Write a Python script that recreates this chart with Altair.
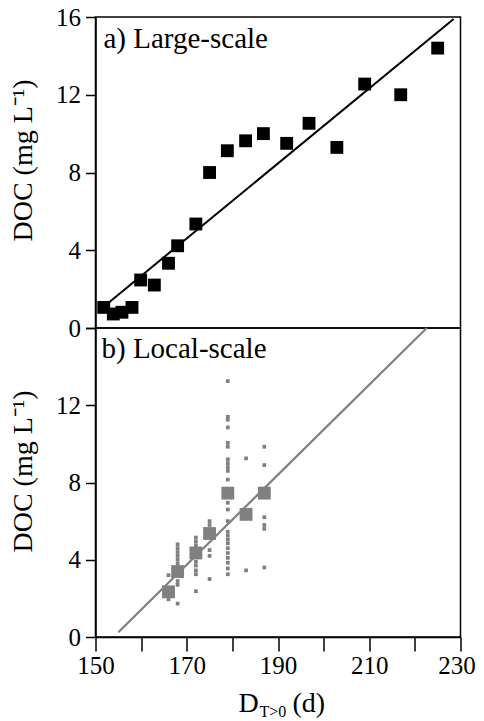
import altair as alt
import pandas as pd

FONT = "Liberation Serif"

# Panel a) Large-scale
a_day = [151.8, 153.9, 155.8, 158.0, 159.9, 162.9, 166.0, 168.0, 172.0, 175.0,
         178.9, 182.9, 186.8, 191.9, 196.8, 202.9, 209.0, 216.9, 225.0]
a_doc = [1.06, 0.72, 0.81, 1.06, 2.47, 2.21, 3.33, 4.23, 5.35, 8.0,
         9.12, 9.63, 10.0, 9.5, 10.53, 9.29, 12.55, 12.0, 14.4]
fit_a_day = [152.8, 228.5]
fit_a_doc = [1.29, 15.9]

# Panel b) Local-scale: means
b_day = [166, 168, 172, 175, 179, 183, 187]
b_doc = [2.34, 3.39, 4.35, 5.36, 7.45, 6.35, 7.45]
fit_b_day = [155.0, 222.6]
fit_b_doc = [0.25, 16.0]

# Panel b) individual samples per day
samples = {
    166: [3.2, 1.95],
    168: [4.8, 4.6, 4.4, 4.2, 4.0, 3.8, 3.2, 2.9, 2.7, 1.73],
    172: [5.15, 4.95, 4.75, 3.9, 3.7, 3.45, 3.25, 2.37],
    175: [6.0, 5.8, 4.5, 4.2, 3.0],
    179: [13.25, 11.4, 11.25, 10.85, 10.05, 9.85, 9.2, 9.0, 8.8, 8.6, 8.15,
          6.95, 6.6, 6.0, 5.45, 5.25, 5.05, 4.85, 4.6, 4.35, 4.1, 3.85, 3.55, 3.25],
    183: [9.25, 3.45],
    187: [9.85, 8.9, 6.2, 5.8, 5.6, 3.6],
}

y_ticks = list(range(0, 17, 2))
x_ticks = list(range(150, 231, 5))
y_title = "DOC (mg L⁻¹)"
label_a = ["a) Large-scale"]
label_b = ["b) Local-scale"]
xt_main = ["D"]
xt_sub = ["T>0"]
xt_unit = ["(d)"]

W, HA, HB = 365, 311, 309
GRAY = "#808080"

xs = alt.Scale(domain=[150, 230], nice=False, zero=False)
ys = alt.Scale(domain=[0, 16], nice=False)


def yaxis(hide_top):
    expr = "datum.value % 4 == 0" + (" && datum.value < 16" if hide_top else "")
    return alt.Axis(values=y_ticks, labelExpr=f"({expr}) ? datum.label : ''",
                    tickSize=10, tickWidth=1.5, tickColor="black",
                    domainColor="black", domainWidth=1.5, grid=False,
                    labelFont=FONT, labelFontSize=25, labelColor="black", labelPadding=5,
                    title=y_title, titleFont=FONT, titleFontSize=28,
                    titleFontWeight="normal", titleColor="black",
                    titleX=-64, titleY=143, titleAngle=270,
                    titleBaseline="alphabetic", titleAlign="center")


xaxis_b = alt.Axis(values=x_ticks, labelExpr="datum.value % 20 == 10 ? datum.label : ''",
                   tickSize=14, tickWidth=1.5, tickColor="black",
                   domainColor="black", domainWidth=1.5, grid=False,
                   labelFont=FONT, labelFontSize=25, labelColor="black", labelPadding=2,
                   labelOffset=alt.ConditionalAxisNumber(
                       condition={"test": "datum.value == 230", "value": -4}, value=0),
                   labelFlush=False, title=None)

df_a = pd.DataFrame({"day": a_day, "doc": a_doc})
df_fa = pd.DataFrame({"day": fit_a_day, "doc": fit_a_doc})
df_b = pd.DataFrame({"day": b_day, "doc": b_doc})
df_fb = pd.DataFrame({"day": fit_b_day, "doc": fit_b_doc})
rows = [(d, v) for d, vals in samples.items() for v in vals]
df_s = pd.DataFrame(rows, columns=["day", "doc"])

# ---- panel a
pts_a = alt.Chart(df_a).mark_square(size=165, color="black", opacity=1).encode(
    x=alt.X("day:Q", scale=xs, axis=None),
    y=alt.Y("doc:Q", scale=ys, axis=yaxis(False)),
)
line_a = alt.Chart(df_fa).mark_line(color="black", strokeWidth=2).encode(
    x=alt.X("day:Q", scale=xs, axis=None), y=alt.Y("doc:Q", scale=ys))
txt_a = alt.Chart(pd.DataFrame({"t": label_a})).mark_text(
    font=FONT, fontSize=29, align="left", baseline="alphabetic", color="black"
).encode(text="t:N", x=alt.value(8), y=alt.value(31))
panel_a = alt.layer(pts_a, line_a, txt_a).properties(width=W, height=HA)

# ---- panel b
dots = alt.Chart(df_s).mark_square(size=14, color=GRAY, opacity=1).encode(
    x=alt.X("day:Q", scale=xs, axis=xaxis_b),
    y=alt.Y("doc:Q", scale=ys, axis=yaxis(True)),
)
pts_b = alt.Chart(df_b).mark_square(size=165, color=GRAY, opacity=1).encode(
    x=alt.X("day:Q", scale=xs), y=alt.Y("doc:Q", scale=ys))
line_b = alt.Chart(df_fb).mark_line(color=GRAY, strokeWidth=2.2).encode(
    x=alt.X("day:Q", scale=xs), y=alt.Y("doc:Q", scale=ys))
txt_b = alt.Chart(pd.DataFrame({"t": label_b})).mark_text(
    font=FONT, fontSize=29, align="left", baseline="alphabetic", color="black"
).encode(text="t:N", x=alt.value(6), y=alt.value(30))
xt1 = alt.Chart(pd.DataFrame({"t": xt_main})).mark_text(
    font=FONT, fontSize=28, align="left", baseline="alphabetic", color="black"
).encode(text="t:N", x=alt.value(143), y=alt.value(HB + 75))
xt2 = alt.Chart(pd.DataFrame({"t": xt_sub})).mark_text(
    font=FONT, fontSize=16, align="left", baseline="alphabetic", color="black"
).encode(text="t:N", x=alt.value(164), y=alt.value(HB + 80))
xt3 = alt.Chart(pd.DataFrame({"t": xt_unit})).mark_text(
    font=FONT, fontSize=28, align="left", baseline="alphabetic", color="black"
).encode(text="t:N", x=alt.value(197), y=alt.value(HB + 75))
panel_b = alt.layer(dots, pts_b, line_b, txt_b, xt1, xt2, xt3).properties(width=W, height=HB)

chart = alt.vconcat(panel_a, panel_b, spacing=0, bounds="flush").configure_view(
    stroke="black", strokeWidth=1.5
).properties(
    padding={"left": 0.5, "top": -4, "right": -2, "bottom": 0},
    background="white",
)

chart.save("out.html", embed_options={"renderer": "svg", "actions": False})
